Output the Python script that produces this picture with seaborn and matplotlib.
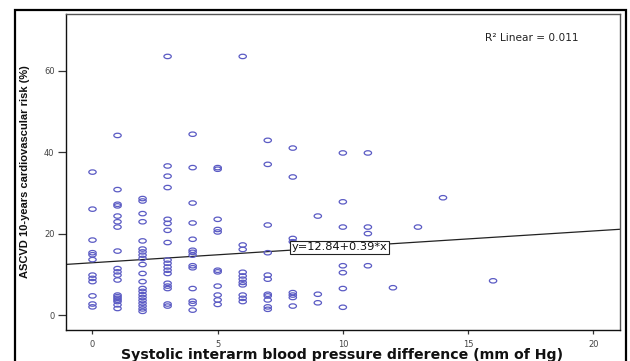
import numpy as np
import pandas as pd
import matplotlib
matplotlib.use("Agg")
import matplotlib.pyplot as plt
import seaborn as sns
from matplotlib.path import Path
from matplotlib.patches import Rectangle

# ---- data ----
x0 = [35.1, 26.0, 18.4, 15.3, 14.8, 13.6, 9.8, 9.0, 8.2, 4.7, 2.7, 2.0]
x1 = [44.1, 30.8, 27.2, 26.8, 24.3, 22.9, 21.6, 15.7, 11.4, 10.6, 9.8, 8.6,
      4.9, 4.5, 4.1, 3.7, 3.3, 2.5, 1.6]
x2 = [28.6, 28.0, 24.9, 22.9, 18.2, 16.2, 15.5, 14.7, 13.9, 12.4, 10.2, 8.2,
      6.5, 5.8, 5.0, 4.3, 3.6, 2.9, 2.2, 1.5, 0.9]
x3 = [63.5, 36.6, 34.1, 31.3, 23.5, 22.5, 20.8, 17.8, 13.5, 12.7, 11.8, 11.0,
      10.2, 7.8, 7.1, 6.5, 2.7, 2.2]
x4 = [44.4, 36.2, 27.5, 22.6, 18.6, 15.9, 15.4, 14.7, 12.1, 11.6, 6.5, 3.4,
      2.8, 1.2]
x5 = [36.2, 35.8, 23.5, 21.0, 20.4, 11.0, 10.6, 7.1, 4.9, 3.7, 2.6]
x6 = [63.5, 17.2, 16.1, 10.5, 9.6, 8.8, 8.0, 7.4, 4.9, 4.1, 3.3]
x7 = [42.9, 37.0, 22.1, 15.3, 9.8, 8.8, 5.1, 4.7, 3.7, 2.0, 1.4]
x8 = [41.0, 33.9, 18.8, 18.0, 5.5, 4.9, 4.3, 2.2]
x9 = [24.3, 5.1, 3.0]
x10 = [39.8, 27.8, 21.6, 12.1, 10.4, 6.5, 1.9]
x11 = [39.8, 21.6, 20.0, 12.1]
x12 = [6.7]
x13 = [21.6]
x14 = [28.8]
x16 = [8.4]

groups = {0: x0, 1: x1, 2: x2, 3: x3, 4: x4, 5: x5, 6: x6, 7: x7, 8: x8,
          9: x9, 10: x10, 11: x11, 12: x12, 13: x13, 14: x14, 16: x16}

intercept = 12.84
slope = 0.39
r2_label = "R\u00b2 Linear = 0.011"
eq_label = "y=12.84+0.39*x"
xticks = [0, 5, 10, 15, 20]
yticks = [0, 20, 40, 60]
xlabel = "Systolic interarm blood pressure difference (mm of Hg)"
ylabel = "ASCVD 10-years cardiovascular risk (%)"

rows = [(k, v) for k, vals in groups.items() for v in vals]
df = pd.DataFrame(rows, columns=["sibpd", "ascvd"])

# ---- figure ----
sns.set_style("white")
plt.rcParams["font.family"] = ["DejaVu Sans"]

fig = plt.figure(figsize=(6.3, 3.61), dpi=100)
W, H = 630, 361
ax = fig.add_axes([65.7 / W, 1 - 330 / H, (620 - 65.7) / W, (330 - 14.3) / H])

# elliptical open marker (the reference is horizontally stretched)
circ = Path.unit_circle()
ell = Path(circ.vertices * np.array([1.0, 0.6]), circ.codes)

sns.scatterplot(data=df, x="sibpd", y="ascvd", ax=ax, marker=ell, s=28,
                facecolors="none", edgecolor="#5b5bc4", linewidth=0.9,
                legend=False, zorder=3)

ax.axline((0, intercept), slope=slope, color="#222222", lw=0.9, zorder=2)

ax.set_xlim(-1.07, 21.07)
ax.set_ylim(-3.68, 73.85)
ax.set_xticks(xticks)
ax.set_yticks(yticks)
ax.tick_params(axis="y", length=6, width=0.9, color="#333333", pad=2,
               labelsize=6, labelcolor="#444444", left=True)
ax.tick_params(axis="x", length=3, width=0.9, color="#333333", pad=4,
               labelsize=6, labelcolor="#444444", bottom=True)

for side in ["left", "bottom"]:
    ax.spines[side].set_color("#111111")
    ax.spines[side].set_linewidth(1.0)
for side in ["top", "right"]:
    ax.spines[side].set_color("#555555")
    ax.spines[side].set_linewidth(1.0)

ax.set_xlabel("")
ax.set_ylabel("")

ax.text(0.756, 0.925, r2_label, transform=ax.transAxes, fontsize=7.6,
        color="#222222", ha="left", va="center")

ax.text(0.408, 0.262, eq_label, transform=ax.transAxes, fontsize=8.2,
        color="#111111", ha="left", va="center", zorder=5,
        bbox=dict(boxstyle="square,pad=0.12", facecolor="white",
                  edgecolor="#222222", linewidth=0.8))

fig.text(342 / W, 1 - 359.5 / H, xlabel, fontsize=10.2, fontweight="bold",
         ha="center", va="baseline", color="#111111")
fig.text(25 / W, 1 - 172 / H, ylabel, fontsize=8.0, fontweight="bold",
         rotation=90, ha="center", va="center", color="#111111",
         family=["Liberation Sans Narrow", "Liberation Sans", "DejaVu Sans"])

# outer frame
fig.patches.append(Rectangle((15 / W, -0.1), (626 - 15) / W, 1.1 - 10 / H,
                             transform=fig.transFigure, fill=False,
                             edgecolor="black", linewidth=1.6))

fig.savefig("out.png", dpi=100)
